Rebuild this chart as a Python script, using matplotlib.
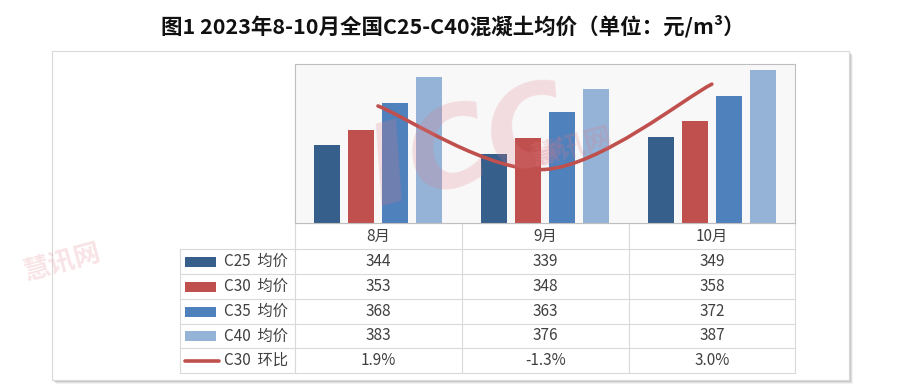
import matplotlib
matplotlib.use("Agg")
import matplotlib.pyplot as plt
from matplotlib.patches import Rectangle, PathPatch
from matplotlib.path import Path
import numpy as np

plt.rcParams['font.family'] = ['Noto Sans CJK SC', 'DejaVu Sans']

title = "图1 2023年8-10月全国C25-C40混凝土均价（单位：元/m³）"
months = ["8月", "9月", "10月"]
series_names = ["C25  均价", "C30  均价", "C35  均价", "C40  均价"]
c25 = [344, 339, 349]
c30 = [353, 348, 358]
c35 = [368, 363, 372]
c40 = [383, 376, 387]
mom_name = "C30  环比"
c30_mom = [1.9, -1.3, 3.0]
mom_labels = ["1.9%", "-1.3%", "3.0%"]

colors = ["#375F8C", "#C0504D", "#4F81BD", "#95B3D7"]
line_color = "#C0504D"
text_color = "#404040"
grid_color = "#D9D9D9"

W, H = 900, 390
fig = plt.figure(figsize=(W / 100, H / 100), dpi=100)
fig.patch.set_facecolor("white")

bg = fig.add_axes([0, 0, 1, 1], zorder=0)
bg.set_xlim(0, W)
bg.set_ylim(H, 0)
bg.axis("off")

# frame with shadow
fx0, fy0, fx1, fy1 = 52, 51, 849, 380
for k, a in [(4, 0.10), (3, 0.15), (2, 0.25), (1, 0.35)]:
    bg.add_patch(Rectangle((fx0 + k, fy0 + k), fx1 - fx0, fy1 - fy0,
                           facecolor="#808080", edgecolor="none", alpha=a))
bg.add_patch(Rectangle((fx0, fy0), fx1 - fx0, fy1 - fy0,
                       facecolor="white", edgecolor=grid_color, lw=0.8))

# plot area
px0, px1, py0, py1 = 294.5, 795.3, 64.3, 223.0
ax = fig.add_axes([px0 / W, 1 - py1 / H, (px1 - px0) / W, (py1 - py0) / H], zorder=2)
ax.set_facecolor("#F8F8F8")
for s in ax.spines.values():
    s.set_color("#BFBFBF")
    s.set_linewidth(0.8)
ax.set_xticks([])
ax.set_yticks([])
ax.set_xlim(-0.5, len(months) - 0.5)
ax.set_ylim(300, 390)

x = np.arange(len(months))
bw = 26 / 167
step = 34 / 167
for i, (vals, col) in enumerate(zip([c25, c30, c35, c40], colors)):
    ax.bar(x + (i - 1.5) * step, vals, width=bw, color=col, zorder=2)

ax2 = ax.twinx()
ax2.set_ylim(-4, 4)
ax2.set_xlim(-0.5, len(months) - 0.5)
ax2.axis("off")

# smoothed line (bezier, like Excel smoothing)
pts = np.column_stack([x, c30_mom]).astype(float)
n = len(pts)
verts = [tuple(pts[0])]
codes = [Path.MOVETO]
for i in range(n - 1):
    p0 = pts[max(i - 1, 0)]
    p1 = pts[i]
    p2 = pts[i + 1]
    p3 = pts[min(i + 2, n - 1)]
    c1 = p1 + (p2 - p0) / 6
    c2 = p2 - (p3 - p1) / 6
    verts += [tuple(c1), tuple(c2), tuple(p2)]
    codes += [Path.CURVE4] * 3
ax2.add_patch(PathPatch(Path(verts, codes), facecolor="none",
                        edgecolor=line_color, lw=2.6, capstyle="round", zorder=3))

# data table
cols = [294.5, 461.7, 628.7, 795.3]
lx0 = 180
rows = [223.0, 249.3, 274.3, 299.3, 323.7, 348.3, 372.7]
lw_t = 0.8
bg.plot([px0, px1], [rows[0], rows[0]], color=grid_color, lw=lw_t)
for r in rows[1:]:
    bg.plot([lx0, px1], [r, r], color=grid_color, lw=lw_t)
for c in cols:
    bg.plot([c, c], [rows[0], rows[-1]], color=grid_color, lw=lw_t)
bg.plot([lx0, lx0], [rows[1], rows[-1]], color=grid_color, lw=lw_t)

fs = 11
centers = [(cols[j] + cols[j + 1]) / 2 for j in range(3)]
for j, m in enumerate(months):
    bg.text(centers[j], (rows[0] + rows[1]) / 2, m, ha="center", va="center",
            fontsize=fs, color=text_color)

table_vals = [c25, c30, c35, c40]
for i in range(4):
    yc = (rows[i + 1] + rows[i + 2]) / 2
    bg.add_patch(Rectangle((185, yc - 5), 31, 10, facecolor=colors[i], edgecolor="none"))
    bg.text(224, yc, series_names[i], ha="left", va="center", fontsize=fs, color=text_color)
    for j in range(3):
        bg.text(centers[j], yc, str(table_vals[i][j]), ha="center", va="center",
                fontsize=fs, color=text_color)
yc = (rows[5] + rows[6]) / 2
bg.plot([185, 219], [yc, yc], color=line_color, lw=2.6, solid_capstyle="round")
bg.text(224, yc, mom_name, ha="left", va="center", fontsize=fs, color=text_color)
for j in range(3):
    bg.text(centers[j], yc, mom_labels[j], ha="center", va="center",
            fontsize=fs, color=text_color)

# title
fig.text(453 / W, 1 - 26 / H, title, ha="center", va="center", fontsize=15.5,
         color="#111111", fontweight="bold")

# watermark overlay
wm = fig.add_axes([0, 0, 1, 1], zorder=5)
wm.set_xlim(0, W)
wm.set_ylim(H, 0)
wm.axis("off")
wm.patch.set_alpha(0)
wm.text(470, 150, "ICC", fontsize=80, fontweight="bold", style="italic",
        color="#E07A85", alpha=0.22, rotation=15, ha="center", va="center",
        family="DejaVu Sans")
wm.text(572, 148, "慧讯网", fontsize=20, fontweight="bold",
        color="#E07A85", alpha=0.22, rotation=15, ha="center", va="center")
wm.text(62, 262, "慧讯网", fontsize=19, fontweight="bold",
        color="#E07A85", alpha=0.2, rotation=15, ha="center", va="center")

fig.savefig("out.png", dpi=100)
